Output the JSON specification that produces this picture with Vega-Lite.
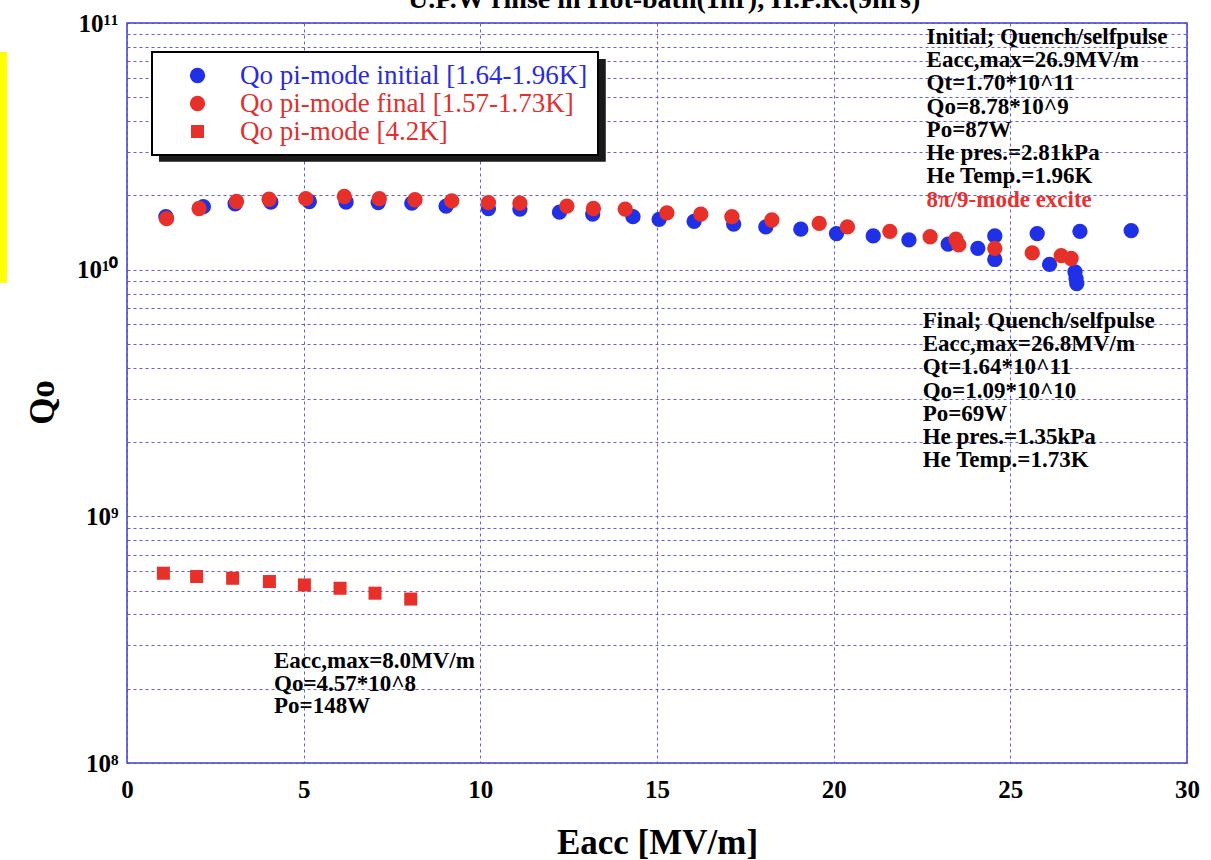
{
  "$schema": "https://vega.github.io/schema/vega-lite/v6.json",
  "width": 1060,
  "height": 740,
  "autosize": {"type": "none"},
  "padding": {"left": 127, "top": 23, "right": 24, "bottom": 97},
  "background": "white",
  "config": {
    "view": {"stroke": "#4040d0", "strokeWidth": 1.5},
    "axis": {
      "domain": false, "ticks": false, "grid": true, "labelFlush": false,
      "gridColor": "#5050dc", "gridDash": [3, 3], "gridWidth": 1, "gridOpacity": 0.9,
      "labelFont": "Liberation Serif", "labelFontSize": 25, "labelFontWeight": "bold", "labelColor": "black",
      "titleFont": "Liberation Serif", "titleFontSize": 35, "titleFontWeight": "bold", "titleColor": "black"
    },
    "legend": {
      "fillColor": "white", "strokeColor": "black", "strokeWidth": 2, "padding": 10,
      "labelFont": "Liberation Serif", "labelFontSize": 27, "labelLimit": 600,
      "symbolOffset": 22, "labelOffset": 29, "rowPadding": 0, "cornerRadius": 0
    }
  },
  "datasets": {
    "pts": [
      {"series": "Qo pi-mode initial [1.64-1.96K]", "eacc": 1.10, "qo": 1.64e10},
      {"series": "Qo pi-mode initial [1.64-1.96K]", "eacc": 2.16, "qo": 1.80e10},
      {"series": "Qo pi-mode initial [1.64-1.96K]", "eacc": 3.06, "qo": 1.85e10},
      {"series": "Qo pi-mode initial [1.64-1.96K]", "eacc": 4.07, "qo": 1.88e10},
      {"series": "Qo pi-mode initial [1.64-1.96K]", "eacc": 5.16, "qo": 1.89e10},
      {"series": "Qo pi-mode initial [1.64-1.96K]", "eacc": 6.20, "qo": 1.88e10},
      {"series": "Qo pi-mode initial [1.64-1.96K]", "eacc": 7.11, "qo": 1.87e10},
      {"series": "Qo pi-mode initial [1.64-1.96K]", "eacc": 8.06, "qo": 1.86e10},
      {"series": "Qo pi-mode initial [1.64-1.96K]", "eacc": 9.03, "qo": 1.81e10},
      {"series": "Qo pi-mode initial [1.64-1.96K]", "eacc": 10.23, "qo": 1.77e10},
      {"series": "Qo pi-mode initial [1.64-1.96K]", "eacc": 11.12, "qo": 1.76e10},
      {"series": "Qo pi-mode initial [1.64-1.96K]", "eacc": 12.24, "qo": 1.71e10},
      {"series": "Qo pi-mode initial [1.64-1.96K]", "eacc": 13.18, "qo": 1.68e10},
      {"series": "Qo pi-mode initial [1.64-1.96K]", "eacc": 14.32, "qo": 1.64e10},
      {"series": "Qo pi-mode initial [1.64-1.96K]", "eacc": 15.06, "qo": 1.60e10},
      {"series": "Qo pi-mode initial [1.64-1.96K]", "eacc": 16.05, "qo": 1.57e10},
      {"series": "Qo pi-mode initial [1.64-1.96K]", "eacc": 17.17, "qo": 1.53e10},
      {"series": "Qo pi-mode initial [1.64-1.96K]", "eacc": 18.08, "qo": 1.49e10},
      {"series": "Qo pi-mode initial [1.64-1.96K]", "eacc": 19.07, "qo": 1.46e10},
      {"series": "Qo pi-mode initial [1.64-1.96K]", "eacc": 20.08, "qo": 1.40e10},
      {"series": "Qo pi-mode initial [1.64-1.96K]", "eacc": 21.12, "qo": 1.37e10},
      {"series": "Qo pi-mode initial [1.64-1.96K]", "eacc": 22.13, "qo": 1.32e10},
      {"series": "Qo pi-mode initial [1.64-1.96K]", "eacc": 23.24, "qo": 1.27e10},
      {"series": "Qo pi-mode initial [1.64-1.96K]", "eacc": 24.08, "qo": 1.22e10},
      {"series": "Qo pi-mode initial [1.64-1.96K]", "eacc": 24.56, "qo": 1.37e10},
      {"series": "Qo pi-mode initial [1.64-1.96K]", "eacc": 24.56, "qo": 1.10e10},
      {"series": "Qo pi-mode initial [1.64-1.96K]", "eacc": 25.76, "qo": 1.40e10},
      {"series": "Qo pi-mode initial [1.64-1.96K]", "eacc": 26.11, "qo": 1.05e10},
      {"series": "Qo pi-mode initial [1.64-1.96K]", "eacc": 26.83, "qo": 9.8e9},
      {"series": "Qo pi-mode initial [1.64-1.96K]", "eacc": 26.86, "qo": 9.2e9},
      {"series": "Qo pi-mode initial [1.64-1.96K]", "eacc": 26.88, "qo": 8.78e9},
      {"series": "Qo pi-mode initial [1.64-1.96K]", "eacc": 26.97, "qo": 1.43e10},
      {"series": "Qo pi-mode initial [1.64-1.96K]", "eacc": 28.42, "qo": 1.44e10},
      {"series": "Qo pi-mode final [1.57-1.73K]", "eacc": 1.12, "qo": 1.61e10},
      {"series": "Qo pi-mode final [1.57-1.73K]", "eacc": 2.04, "qo": 1.77e10},
      {"series": "Qo pi-mode final [1.57-1.73K]", "eacc": 3.10, "qo": 1.89e10},
      {"series": "Qo pi-mode final [1.57-1.73K]", "eacc": 4.02, "qo": 1.93e10},
      {"series": "Qo pi-mode final [1.57-1.73K]", "eacc": 5.06, "qo": 1.94e10},
      {"series": "Qo pi-mode final [1.57-1.73K]", "eacc": 6.15, "qo": 1.98e10},
      {"series": "Qo pi-mode final [1.57-1.73K]", "eacc": 7.14, "qo": 1.94e10},
      {"series": "Qo pi-mode final [1.57-1.73K]", "eacc": 8.15, "qo": 1.92e10},
      {"series": "Qo pi-mode final [1.57-1.73K]", "eacc": 9.19, "qo": 1.90e10},
      {"series": "Qo pi-mode final [1.57-1.73K]", "eacc": 10.23, "qo": 1.87e10},
      {"series": "Qo pi-mode final [1.57-1.73K]", "eacc": 11.12, "qo": 1.86e10},
      {"series": "Qo pi-mode final [1.57-1.73K]", "eacc": 12.45, "qo": 1.81e10},
      {"series": "Qo pi-mode final [1.57-1.73K]", "eacc": 13.20, "qo": 1.77e10},
      {"series": "Qo pi-mode final [1.57-1.73K]", "eacc": 14.10, "qo": 1.76e10},
      {"series": "Qo pi-mode final [1.57-1.73K]", "eacc": 15.28, "qo": 1.70e10},
      {"series": "Qo pi-mode final [1.57-1.73K]", "eacc": 16.24, "qo": 1.68e10},
      {"series": "Qo pi-mode final [1.57-1.73K]", "eacc": 17.12, "qo": 1.64e10},
      {"series": "Qo pi-mode final [1.57-1.73K]", "eacc": 18.25, "qo": 1.59e10},
      {"series": "Qo pi-mode final [1.57-1.73K]", "eacc": 19.59, "qo": 1.54e10},
      {"series": "Qo pi-mode final [1.57-1.73K]", "eacc": 20.39, "qo": 1.49e10},
      {"series": "Qo pi-mode final [1.57-1.73K]", "eacc": 21.59, "qo": 1.43e10},
      {"series": "Qo pi-mode final [1.57-1.73K]", "eacc": 22.73, "qo": 1.36e10},
      {"series": "Qo pi-mode final [1.57-1.73K]", "eacc": 23.46, "qo": 1.33e10},
      {"series": "Qo pi-mode final [1.57-1.73K]", "eacc": 23.54, "qo": 1.26e10},
      {"series": "Qo pi-mode final [1.57-1.73K]", "eacc": 24.56, "qo": 1.22e10},
      {"series": "Qo pi-mode final [1.57-1.73K]", "eacc": 25.62, "qo": 1.17e10},
      {"series": "Qo pi-mode final [1.57-1.73K]", "eacc": 26.44, "qo": 1.14e10},
      {"series": "Qo pi-mode final [1.57-1.73K]", "eacc": 26.72, "qo": 1.11e10},
      {"series": "Qo pi-mode [4.2K]", "eacc": 1.03, "qo": 5.88e8},
      {"series": "Qo pi-mode [4.2K]", "eacc": 1.97, "qo": 5.70e8},
      {"series": "Qo pi-mode [4.2K]", "eacc": 2.99, "qo": 5.61e8},
      {"series": "Qo pi-mode [4.2K]", "eacc": 4.03, "qo": 5.44e8},
      {"series": "Qo pi-mode [4.2K]", "eacc": 5.02, "qo": 5.27e8},
      {"series": "Qo pi-mode [4.2K]", "eacc": 6.03, "qo": 5.11e8},
      {"series": "Qo pi-mode [4.2K]", "eacc": 7.02, "qo": 4.88e8},
      {"series": "Qo pi-mode [4.2K]", "eacc": 8.03, "qo": 4.62e8}
    ]
  },
  "layer": [
    {
      "data": {"values": [{}]},
      "mark": {"type": "rect", "color": "#1a1a1a"},
      "encoding": {
        "x": {"datum": 0.906, "type": "quantitative", "scale": {"domain": [0, 30]}},
        "x2": {"datum": 13.55},
        "y": {"datum": 7.15e10, "type": "quantitative", "scale": {"type": "log", "domain": [1e8, 1e11]}},
        "y2": {"datum": 2.74e10}
      }
    },
    {
      "data": {"values": [{}]},
      "mark": {"type": "rect", "color": "#ffff00"},
      "encoding": {
        "x": {"datum": -3.595, "type": "quantitative", "scale": {"domain": [0, 30]}},
        "x2": {"datum": -3.397},
        "y": {"datum": 7.63e10, "type": "quantitative", "scale": {"type": "log", "domain": [1e8, 1e11]}},
        "y2": {"datum": 8.84e9}
      }
    },
    {
      "data": {"name": "pts"},
      "mark": {"type": "point", "filled": true, "opacity": 1, "strokeWidth": 0},
      "encoding": {
        "x": {
          "field": "eacc", "type": "quantitative",
          "scale": {"domain": [0, 30]},
          "axis": {
            "values": [0, 5, 10, 15, 20, 25, 30],
            "labelPadding": 14,
            "title": "Eacc [MV/m]", "titleY": 90, "titleBaseline": "alphabetic"
          }
        },
        "y": {
          "field": "qo", "type": "quantitative",
          "scale": {"type": "log", "domain": [1e8, 1e11]},
          "axis": {
            "values": [100000000, 200000000, 300000000, 400000000, 500000000, 600000000, 700000000, 800000000, 900000000,
                       1000000000, 2000000000, 3000000000, 4000000000, 5000000000, 6000000000, 7000000000, 8000000000, 9000000000,
                       10000000000, 20000000000, 30000000000, 40000000000, 50000000000, 60000000000, 70000000000, 80000000000, 90000000000,
                       100000000000],
            "labelExpr": "datum.value == 100000000 ? '10⁸' : datum.value == 1000000000 ? '10⁹' : datum.value == 10000000000 ? '10¹⁰' : datum.value == 100000000000 ? '10¹¹' : ''",
            "labelOverlap": false,
            "labelPadding": 9,
            "title": "Qo", "titleX": -85, "titleY": 379, "titleBaseline": "middle", "titleAngle": -90
          }
        },
        "color": {
          "field": "series", "type": "nominal",
          "scale": {
            "domain": ["Qo pi-mode initial [1.64-1.96K]", "Qo pi-mode final [1.57-1.73K]", "Qo pi-mode [4.2K]"],
            "range": ["#1f30e6", "#e8302a", "#e8302a"]
          },
          "legend": {
            "title": null, "orient": "none", "legendX": 25, "legendY": 29,
            "labelColor": {"expr": "datum.value === 'Qo pi-mode initial [1.64-1.96K]' ? '#2a2ae0' : '#e03030'"}
          }
        },
        "shape": {
          "field": "series", "type": "nominal",
          "scale": {
            "domain": ["Qo pi-mode initial [1.64-1.96K]", "Qo pi-mode final [1.57-1.73K]", "Qo pi-mode [4.2K]"],
            "range": ["circle", "circle", "square"]
          }
        },
        "size": {
          "field": "series", "type": "nominal",
          "scale": {
            "type": "ordinal",
            "domain": ["Qo pi-mode initial [1.64-1.96K]", "Qo pi-mode final [1.57-1.73K]", "Qo pi-mode [4.2K]"],
            "range": [235, 235, 170]
          }
        }
      }
    },
    {
      "data": {"values": [{}]},
      "mark": {
        "type": "text", "align": "center", "baseline": "alphabetic",
        "font": "Liberation Serif", "fontSize": 28, "fontWeight": "bold", "color": "black",
        "text": "U.P.W rinse in Hot-bath(1hr), H.P.R.(9hrs)"
      },
      "encoding": {
        "x": {"datum": 15.2, "type": "quantitative", "scale": {"domain": [0, 30]}},
        "y": {"datum": 1.15e11, "type": "quantitative", "scale": {"type": "log", "domain": [1e8, 1e11]}}
      }
    },
    {
      "data": {"values": [{}]},
      "mark": {
        "type": "text", "align": "left", "baseline": "alphabetic",
        "font": "Liberation Serif", "fontSize": 23, "fontWeight": "bold", "lineHeight": 23.2, "color": "black",
        "text": ["Initial; Quench/selfpulse", "Eacc,max=26.9MV/m", "Qt=1.70*10^11", "Qo=8.78*10^9", "Po=87W", "He pres.=2.81kPa", "He Temp.=1.96K"]
      },
      "encoding": {
        "x": {"datum": 22.63, "type": "quantitative", "scale": {"domain": [0, 30]}},
        "y": {"datum": 8.22e10, "type": "quantitative", "scale": {"type": "log", "domain": [1e8, 1e11]}}
      }
    },
    {
      "data": {"values": [{}]},
      "mark": {
        "type": "text", "align": "left", "baseline": "alphabetic",
        "font": "Liberation Serif", "fontSize": 23, "fontWeight": "bold", "color": "#e83030",
        "text": "8π/9-mode excite"
      },
      "encoding": {
        "x": {"datum": 22.63, "type": "quantitative", "scale": {"domain": [0, 30]}},
        "y": {"datum": 1.80e10, "type": "quantitative", "scale": {"type": "log", "domain": [1e8, 1e11]}}
      }
    },
    {
      "data": {"values": [{}]},
      "mark": {
        "type": "text", "align": "left", "baseline": "alphabetic",
        "font": "Liberation Serif", "fontSize": 23, "fontWeight": "bold", "lineHeight": 23.1, "color": "black",
        "text": ["Final; Quench/selfpulse", "Eacc,max=26.8MV/m", "Qt=1.64*10^11", "Qo=1.09*10^10", "Po=69W", "He pres.=1.35kPa", "He Temp.=1.73K"]
      },
      "encoding": {
        "x": {"datum": 22.52, "type": "quantitative", "scale": {"domain": [0, 30]}},
        "y": {"datum": 5.79e9, "type": "quantitative", "scale": {"type": "log", "domain": [1e8, 1e11]}}
      }
    },
    {
      "data": {"values": [{}]},
      "mark": {
        "type": "text", "align": "left", "baseline": "alphabetic",
        "font": "Liberation Serif", "fontSize": 23, "fontWeight": "bold", "lineHeight": 22.5, "color": "black",
        "text": ["Eacc,max=8.0MV/m", "Qo=4.57*10^8", "Po=148W"]
      },
      "encoding": {
        "x": {"datum": 4.16, "type": "quantitative", "scale": {"domain": [0, 30]}},
        "y": {"datum": 2.42e8, "type": "quantitative", "scale": {"type": "log", "domain": [1e8, 1e11]}}
      }
    }
  ]
}
